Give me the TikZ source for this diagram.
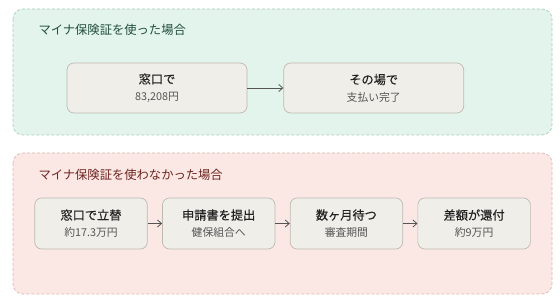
\documentclass[tikz,border=0pt]{standalone}
\usepackage{fontspec}
\setmainfont{Noto Sans CJK JP}
\newfontfamily\medjp[FakeBold=0.4]{Noto Sans CJK JP}
\usetikzlibrary{positioning, arrows.meta}

\definecolor{mintfill}{HTML}{E2F4EC}
\definecolor{mintline}{HTML}{A9CDBB}
\definecolor{minttext}{HTML}{234F3C}
\definecolor{rosefill}{HTML}{FBE8E4}
\definecolor{roseline}{HTML}{DDB5AE}
\definecolor{rosetext}{HTML}{6E2420}
\definecolor{stepfill}{HTML}{F0EEE9}
\definecolor{stepline}{HTML}{BDBAB2}
\definecolor{subgray}{HTML}{555555}
\definecolor{maingray}{HTML}{222222}

\tikzset{
  panel/.style={draw, dash pattern=on 3pt off 2pt, rounded corners=10pt, line width=0.7pt},
  stepbox/.style={draw=stepline, fill=stepfill, rounded corners=7pt, line width=0.7pt,
    align=center, inner sep=0pt, font=\fontsize{12}{17}\selectfont},
  flow/.style={-{Straight Barb[length=4pt,width=7pt]}, draw=subgray, line width=0.8pt},
}
\newcommand{\mainline}[1]{{\medjp\fontsize{12.2}{17}\selectfont\color{maingray}#1}}
\newcommand{\subline}[1]{{\fontsize{10.8}{15}\selectfont\color{subgray}#1}}

\begin{document}
\begin{tikzpicture}[x=1pt, y=-1pt]
\useasboundingbox (0,0) rectangle (560,296);

% with card
\draw[panel, draw=mintline, fill=mintfill] (13,9) rectangle (552,135);
\node[anchor=west, text=minttext, font=\fontsize{12.3}{15}\selectfont] (titleA) at (35,30) {マイナ保険証を使った場合};
\node[stepbox, minimum width=180pt, minimum height=50pt] (payA) at (157,88)
  {\mainline{窓口で}\\\subline{83,208円}};
\node[stepbox, minimum width=180pt, minimum height=50pt, right=36pt of payA] (doneA)
  {\mainline{その場で}\\\subline{支払い完了}};
\draw[flow] (payA) -- (doneA);

% without card
\draw[panel, draw=roseline, fill=rosefill] (13,153) rectangle (552,294);
\node[anchor=west, text=rosetext, font=\fontsize{12.3}{15}\selectfont] (titleB) at (35,175) {マイナ保険証を使わなかった場合};
\node[stepbox, minimum width=112.5pt, minimum height=51pt] (payB) at (91,223.5)
  {\mainline{窓口で立替}\\\subline{約17.3万円}};
\node[stepbox, minimum width=112.5pt, minimum height=51pt, right=14.5pt of payB] (formB)
  {\mainline{申請書を提出}\\\subline{健保組合へ}};
\node[stepbox, minimum width=112.5pt, minimum height=51pt, right=14.5pt of formB] (waitB)
  {\mainline{数ヶ月待つ}\\\subline{審査期間}};
\node[stepbox, minimum width=112.5pt, minimum height=51pt, right=14.5pt of waitB] (backB)
  {\mainline{差額が還付}\\\subline{約9万円}};
\draw[flow] (payB) -- (formB);
\draw[flow] (formB) -- (waitB);
\draw[flow] (waitB) -- (backB);
\end{tikzpicture}
\end{document}
